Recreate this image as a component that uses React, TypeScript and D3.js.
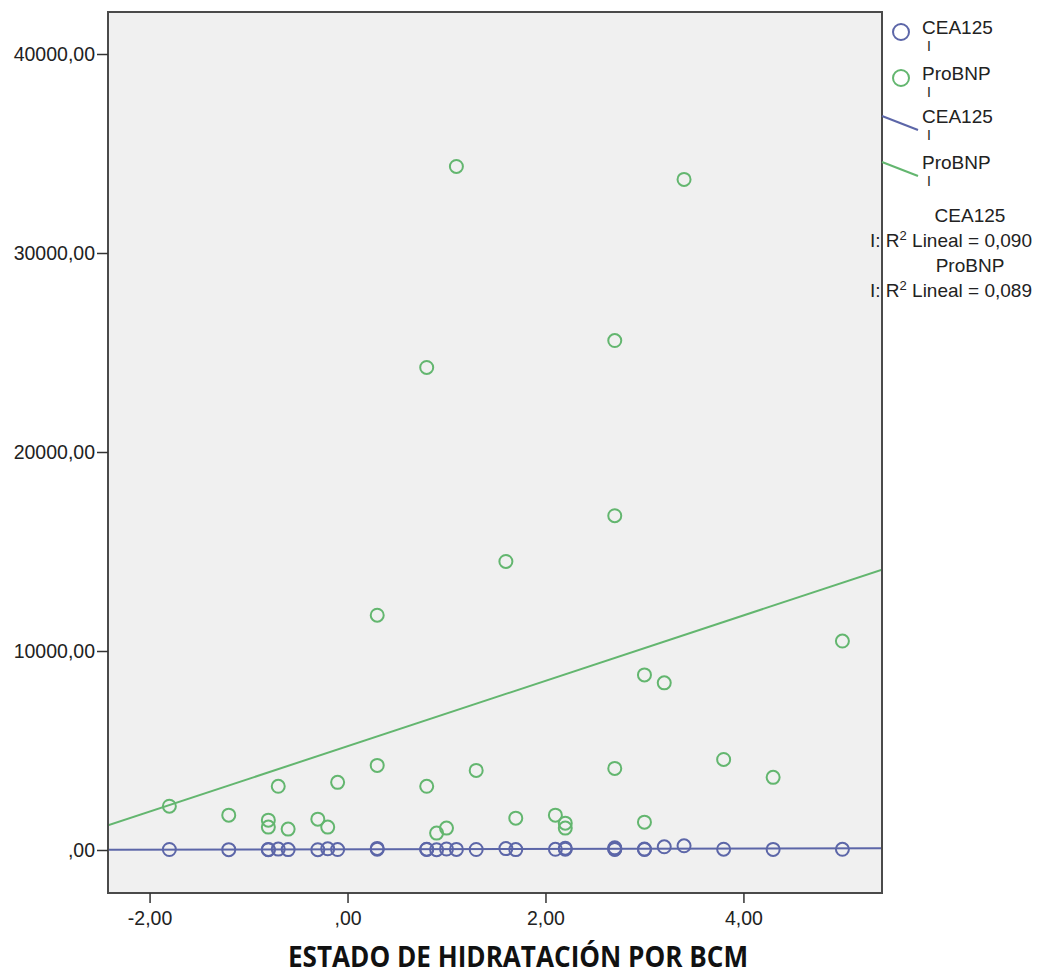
import { useEffect, useRef } from "react";
import * as d3 from "d3";

// hydration status (x) with the two markers measured per patient
const hydration = [-1.8, -1.2, -0.8, -0.8, -0.7, -0.6, -0.3, -0.2, -0.1, 0.3, 0.3, 0.8, 0.8, 0.9, 1.0, 1.1, 1.3, 1.6, 1.7, 2.1, 2.2, 2.2, 2.7, 2.7, 2.7, 3.0, 3.0, 3.2, 3.4, 3.8, 4.3, 5.0];
const proBNP = [2200, 1750, 1500, 1150, 3200, 1050, 1550, 1150, 3400, 4250, 11800, 3200, 24250, 850, 1100, 34350, 4000, 14500, 1600, 1750, 1350, 1100, 4100, 16800, 25600, 1400, 8800, 8400, 33700, 4550, 3650, 10500];
const cea125 = [25, 18, 30, 12, 45, 20, 15, 60, 22, 35, 80, 40, 28, 15, 50, 30, 25, 70, 20, 35, 90, 40, 30, 55, 110, 45, 25, 160, 210, 40, 30, 35];

const xTicks = [-2, 0, 2, 4];
const xTickLabels = ["-2,00", ",00", "2,00", "4,00"];
const yTicks = [0, 10000, 20000, 30000, 40000];
const yTickLabels = [",00", "10000,00", "20000,00", "30000,00", "40000,00"];

const seriesNames = ["CEA125", "ProBNP"];
const r2Labels = ["0,090", "0,089"];

const BLUE = "#5c66a8";
const GREEN = "#63b66f";
const FONT = "'Liberation Sans', Arial, sans-serif";

function linearFit(xs: number[], ys: number[]) {
  const mx = d3.mean(xs) as number;
  const my = d3.mean(ys) as number;
  let sxy = 0, sxx = 0;
  xs.forEach((x, i) => {
    sxy += (x - mx) * (ys[i] - my);
    sxx += (x - mx) * (x - mx);
  });
  const slope = sxy / sxx;
  return { slope, intercept: my - slope * mx };
}

export default function App() {
  const svgRef = useRef<SVGSVGElement>(null);

  useEffect(() => {
    const width = 1064;
    const height = 977;
    const left = 108, right = 882, top = 12, bottom = 893;

    const svg = d3.select(svgRef.current)
      .attr("width", width)
      .attr("height", height)
      .style("background", "#ffffff")
      .style("font-family", FONT);

    svg.selectAll("*").remove();

    const x = d3.scaleLinear().domain([-2.42, 5.4]).range([left, right]);
    const y = d3.scaleLinear().domain([-2161, 42111]).range([bottom, top]);

    svg.append("defs").append("clipPath").attr("id", "plotclip")
      .append("rect")
      .attr("x", left).attr("y", top)
      .attr("width", right - left).attr("height", bottom - top);

    // plot background
    svg.append("rect")
      .attr("x", left).attr("y", top)
      .attr("width", right - left).attr("height", bottom - top)
      .attr("fill", "#f0f0f0");

    const plot = svg.append("g").attr("clip-path", "url(#plotclip)");

    const series = [
      { values: cea125, color: BLUE },
      { values: proBNP, color: GREEN },
    ];

    // fit lines
    series.forEach(s => {
      const fit = linearFit(hydration, s.values);
      const pts = x.domain().map(v => [v, fit.intercept + fit.slope * v]);
      plot.append("path")
        .attr("d", d3.line<number[]>().x(d => x(d[0])).y(d => y(d[1]))(pts))
        .attr("fill", "none")
        .attr("stroke", s.color)
        .attr("stroke-width", 2);
    });

    // points: ProBNP first, CEA125 on top
    [series[1], series[0]].forEach(s => {
      plot.append("g").selectAll("circle")
        .data(hydration.map((h, i) => [h, s.values[i]]))
        .join("circle")
        .attr("cx", d => x(d[0]))
        .attr("cy", d => y(d[1]))
        .attr("r", 6.5)
        .attr("fill", "none")
        .attr("stroke", s.color)
        .attr("stroke-width", 2);
    });

    // frame
    svg.append("rect")
      .attr("x", left).attr("y", top)
      .attr("width", right - left).attr("height", bottom - top)
      .attr("fill", "none")
      .attr("stroke", "#4a4a4a")
      .attr("stroke-width", 2);

    // axes
    const yAxis = d3.axisLeft(y)
      .tickValues(yTicks)
      .tickSize(11)
      .tickPadding(2)
      .tickFormat((d, i) => yTickLabels[i]);
    const gy = svg.append("g").attr("transform", `translate(${left},0)`).call(yAxis);
    gy.select(".domain").remove();
    gy.selectAll("line").attr("stroke", "#333").attr("stroke-width", 1.5);
    gy.selectAll("text").attr("font-size", 19.5).attr("fill", "#222").attr("font-family", FONT);

    const xAxis = d3.axisBottom(x)
      .tickValues(xTicks)
      .tickSize(10)
      .tickPadding(8)
      .tickFormat((d, i) => xTickLabels[i]);
    const gx = svg.append("g").attr("transform", `translate(0,${bottom})`).call(xAxis);
    gx.select(".domain").remove();
    gx.selectAll("line").attr("stroke", "#333").attr("stroke-width", 1.5);
    gx.selectAll("text").attr("font-size", 19.5).attr("fill", "#222").attr("font-family", FONT);

    // x title
    svg.append("text")
      .attr("x", 518).attr("y", 967)
      .attr("text-anchor", "middle")
      .attr("font-family", "'Open Sans', sans-serif")
      .attr("font-weight", "bold")
      .attr("font-size", 28)
      .attr("textLength", 460)
      .attr("lengthAdjust", "spacingAndGlyphs")
      .attr("fill", "#111")
      .text("ESTADO DE HIDRATACIÓN POR BCM");

    // legend
    const lg = svg.append("g").attr("font-size", 19).attr("fill", "#222");
    const markerY = [32, 78];
    seriesNames.forEach((name, i) => {
      lg.append("circle")
        .attr("cx", 901).attr("cy", markerY[i]).attr("r", 8)
        .attr("fill", "none").attr("stroke", series[i].color).attr("stroke-width", 2);
      lg.append("text").attr("x", 922).attr("y", markerY[i] + 2).text(name);
      lg.append("text").attr("x", 927).attr("y", markerY[i] + 19).attr("font-size", 14).text("I");
    });
    const lineY = [116, 162];
    seriesNames.forEach((name, i) => {
      lg.append("line")
        .attr("x1", 882).attr("y1", lineY[i]).attr("x2", 918).attr("y2", lineY[i] + 14)
        .attr("stroke", series[i].color).attr("stroke-width", 2);
      lg.append("text").attr("x", 922).attr("y", lineY[i] + 7).text(name);
      lg.append("text").attr("x", 927).attr("y", lineY[i] + 24).attr("font-size", 14).text("I");
    });
    const r2Y = [222, 272];
    seriesNames.forEach((name, i) => {
      lg.append("text").attr("x", 970).attr("y", r2Y[i]).attr("text-anchor", "middle").text(name);
      const t = lg.append("text").attr("x", 870).attr("y", r2Y[i] + 25);
      t.append("tspan").text("I: R");
      t.append("tspan").attr("dy", -7).attr("font-size", 13).text("2");
      t.append("tspan").attr("dy", 7).text(" Lineal = " + r2Labels[i]);
    });
  }, []);

  return <svg ref={svgRef} style={{ position: "absolute", left: 0, top: 0 }}></svg>;
}
